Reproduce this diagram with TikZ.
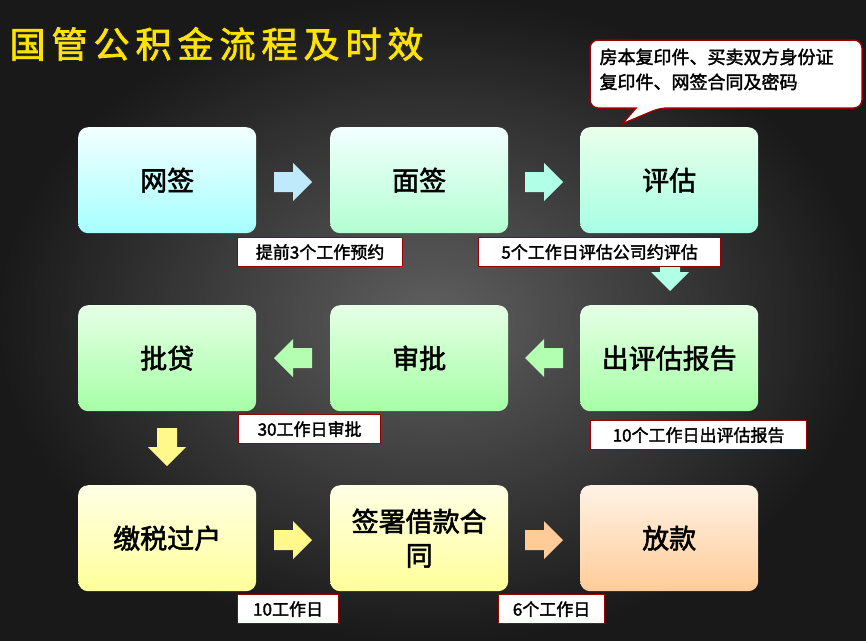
\documentclass[tikz,border=0pt]{standalone}
\usepackage{fontspec}
\newfontfamily\cjk{Noto Sans CJK SC}[AutoFakeBold=2]
\usetikzlibrary{calc}
\newcommand\blockarrow[4]{\begin{scope}[shift={(#1,#2)},rotate=#3]
 \fill[#4] (-19,-10) -- (0,-10) -- (0,-19) -- (19,0) -- (0,19) -- (0,10) -- (-19,10) -- cycle;
\end{scope}}
\begin{document}
\begin{tikzpicture}[x=1pt,y=-1pt,font=\cjk,
 box/.style={rounded corners=10pt,minimum width=178pt,minimum height=106pt,anchor=north west,align=center,font=\cjk\bfseries\fontsize{27}{34}\selectfont,text width=160pt},
 lab/.style={draw=red!60!black,line width=1.2pt,fill=white,anchor=north west,inner sep=4pt,minimum height=29pt,font=\cjk\bfseries\fontsize{17}{20}\selectfont}]
\shade[inner color=gray!75!black,outer color=black!90] (0,0) rectangle (866,640);
\useasboundingbox (0,0) rectangle (866,640);
\node[anchor=west,text=yellow!85!orange,font=\cjk\bfseries\fontsize{36}{40}\selectfont] (title) at (6,44) {国\,管\,公\,积\,金\,流\,程\,及\,时\,效};
% row 1
\node[box,top color=cyan!5,bottom color=cyan!35] (b1) at (78,127) {网签};
\node[box,top color=cyan!5,bottom color=cyan!40!green!30] (b2) at (330,127) {面签};
\node[box,top color=green!8,bottom color=green!30!cyan!35] (b3) at (580,127) {评估};
% row 2
\node[box,top color=green!10,bottom color=green!35] (b4) at (78,305) {批贷};
\node[box,top color=green!10,bottom color=green!35] (b5) at (330,305) {审批};
\node[box,top color=green!10,bottom color=green!35] (b6) at (580,305) {出评估报告};
% row 3
\node[box,top color=yellow!10,bottom color=yellow!40] (b7) at (78,485) {缴税过户};
\node[box,top color=yellow!10,bottom color=yellow!40] (b8) at (330,485) {签署借款合\\同};
\node[box,top color=orange!10,bottom color=orange!40] (b9) at (580,485) {放款};
% arrows
\blockarrow{293}{182}{0}{cyan!25}
\blockarrow{544}{182}{0}{green!30!cyan!30}
\blockarrow{670}{272}{-90}{green!30!cyan!30}
\blockarrow{544}{358}{180}{green!30}
\blockarrow{293}{358}{180}{green!30}
\blockarrow{167}{447}{-90}{yellow!45}
\blockarrow{293}{540}{0}{yellow!45}
\blockarrow{544}{540}{0}{orange!40}
% labels
\node[lab,minimum width=165pt] (l1) at (237,237) {提前3个工作预约};
\node[lab,minimum width=242pt] (l2) at (478,237) {5个工作日评估公司约评估};
\node[lab,minimum width=142pt] (l3) at (238,414) {30工作日审批};
\node[lab,minimum width=216pt] (l4) at (590,420) {10个工作日出评估报告};
\node[lab,minimum width=101pt] (l5) at (237,594) {10工作日};
\node[lab,minimum width=106pt] (l6) at (498,594) {6个工作日};
% callout
\draw[fill=white,draw=red!60!black,line width=1.5pt,rounded corners=8pt]
 (590,40) -- (862,40) -- (862,108) -- (660,108) [sharp corners]-- (622,124) -- (636,108) [rounded corners=8pt] -- (590,108) -- cycle;
\node[anchor=north west,align=left,font=\cjk\bfseries\fontsize{18}{25}\selectfont] (co) at (596,45) {房本复印件、买卖双方身份证\\复印件、网签合同及密码};
\end{tikzpicture}
\end{document}
